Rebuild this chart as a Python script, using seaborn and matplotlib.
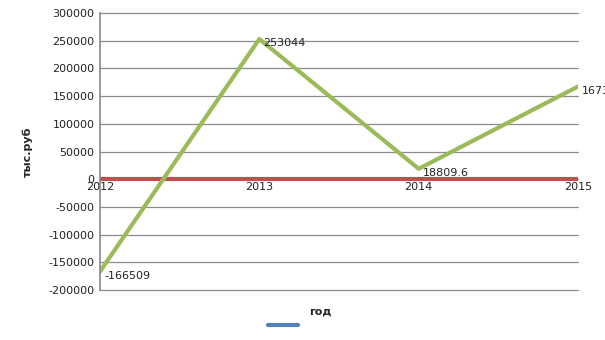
import matplotlib
matplotlib.use("Agg")
import matplotlib.pyplot as plt
import seaborn as sns
import pandas as pd
import numpy as np
from matplotlib.lines import Line2D

years = ["2012", "2013", "2014", "2015"]
profit = [-166509, 253044, 18809.6, 167300]
profit_labels = ["-166509", "253044", "18809.6", "167300"]
zero_line = [0, 0, 0, 0]
y_ticks = [-200000, -150000, -100000, -50000, 0, 50000, 100000, 150000, 200000, 250000, 300000]

sns.set_theme(style="white")
plt.rcParams['font.family'] = ['DejaVu Sans']

fig = plt.figure(figsize=(6.05, 3.4), dpi=100)
ax = fig.add_axes([100/605, 1-290/340, 478/605, 277/340])

df = pd.DataFrame({"x": np.arange(len(years)), "profit": profit, "zero": zero_line})

sns.lineplot(data=df, x="x", y="zero", ax=ax, color="#C0504D", linewidth=3, legend=False)
sns.lineplot(data=df, x="x", y="profit", ax=ax, color="#9BBB59", linewidth=3, legend=False)

for i, (v, t) in enumerate(zip(profit, profit_labels)):
    ax.annotate(t, (i, v), xytext=(3, -3), textcoords="offset points",
                ha="left", va="center", fontsize=8, color="#222222", annotation_clip=False)

ax.set_xlim(0, len(years) - 1)
ax.set_ylim(-200000, 300000)

ax.spines["bottom"].set_position(("data", 0))
ax.spines["bottom"].set_visible(False)
ax.spines["top"].set_visible(False)
ax.spines["right"].set_visible(False)
ax.spines["left"].set_color("#8c8c8c")

ax.set_yticks(y_ticks)
ax.set_yticklabels([str(t) for t in y_ticks])
ax.set_xticks(np.arange(len(years)))
ax.set_xticklabels(years)
ax.tick_params(axis="x", length=0, pad=2, labelsize=8, labelcolor="#222222")
ax.tick_params(axis="y", length=0, pad=4, labelsize=8, labelcolor="#222222")
ax.yaxis.grid(True, color="#8c8c8c", linewidth=0.9)
for gl in ax.get_ygridlines():
    gl.set_clip_on(False)
ax.set_axisbelow(True)

ax.set_xlabel("")
ax.set_ylabel("тыс.руб", fontsize=8, fontweight="bold")
ax.yaxis.set_label_coords(-67/478, 0.5)

fig.text(320/605, 1-312/340, "год", fontsize=8, fontweight="bold", ha="center", va="center")
fig.add_artist(Line2D([268/605, 298/605], [1-325/340, 1-325/340], color="#4F81BD", linewidth=3))

fig.savefig("out.png", dpi=100)
